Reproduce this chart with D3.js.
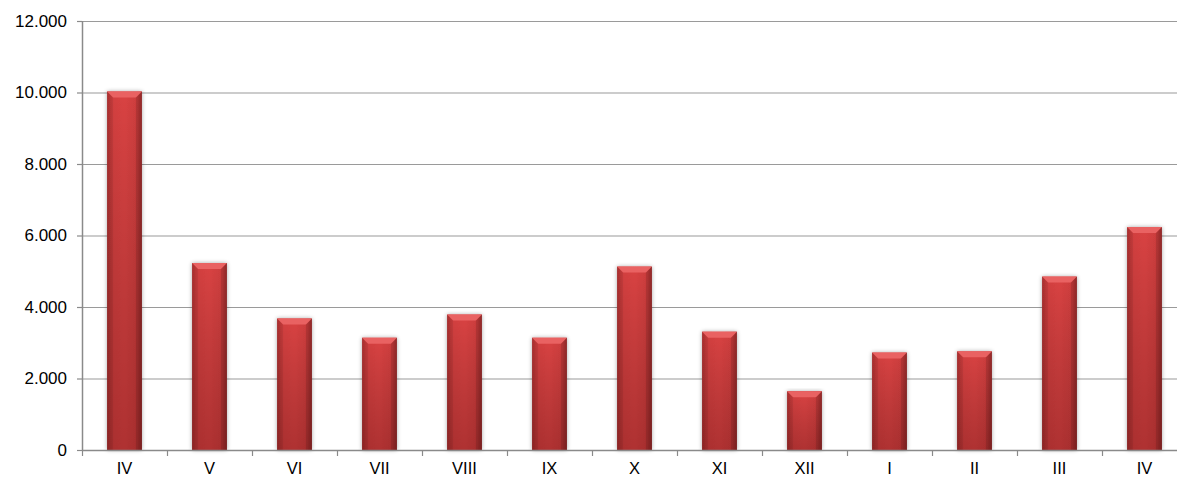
<!DOCTYPE html>
<html>
<head>
<meta charset="utf-8">
<script src="https://cdn.jsdelivr.net/npm/d3@7"></script>
<style>
  body { margin: 0; background: #fff; overflow: hidden; }
  svg { display: block; font-family: "Liberation Sans", Arial, sans-serif; }
</style>
</head>
<body>
<div id="chart"></div>
<script>
// mesi (numeri romani) e valori
var months = ["IV", "V", "VI", "VII", "VIII", "IX", "X", "XI", "XII", "I", "II", "III", "IV"];
var values = [10030, 5230, 3680, 3140, 3790, 3140, 5130, 3310, 1645, 2725, 2760, 4850, 6235];
var yTicks = [0, 2000, 4000, 6000, 8000, 10000, 12000];

var width = 1177, height = 478;
var margin = { left: 82, top: 21, bottom: 28 };
var plotRight = 1187; // l'area del grafico esce a destra oltre la finestra

var svg = d3.select("#chart").append("svg")
  .attr("width", width)
  .attr("height", height);

var defs = svg.append("defs");

// gradiente orizzontale del corpo della barra
var gH = defs.append("linearGradient").attr("id", "barH")
  .attr("x1", "0").attr("x2", "1").attr("y1", "0").attr("y2", "0");
gH.append("stop").attr("offset", "0%").attr("stop-color", "#b53333");
gH.append("stop").attr("offset", "14%").attr("stop-color", "#d23f3f");
gH.append("stop").attr("offset", "50%").attr("stop-color", "#d94343");
gH.append("stop").attr("offset", "86%").attr("stop-color", "#cd3d3d");
gH.append("stop").attr("offset", "100%").attr("stop-color", "#a32e2e");

// scurimento verso il basso
var gV = defs.append("linearGradient").attr("id", "barV")
  .attr("x1", "0").attr("x2", "0").attr("y1", "0").attr("y2", "1");
gV.append("stop").attr("offset", "0%").attr("stop-color", "#000").attr("stop-opacity", 0);
gV.append("stop").attr("offset", "100%").attr("stop-color", "#300").attr("stop-opacity", 0.25);

var shadow = defs.append("filter").attr("id", "shadow")
  .attr("x", "-30%").attr("y", "-5%").attr("width", "160%").attr("height", "110%");
shadow.append("feGaussianBlur").attr("in", "SourceAlpha").attr("stdDeviation", 2.2).attr("result", "b");
shadow.append("feComponentTransfer").attr("in", "b").attr("result", "s")
  .append("feFuncA").attr("type", "linear").attr("slope", 0.35);
var merge = shadow.append("feMerge");
merge.append("feMergeNode").attr("in", "s");
merge.append("feMergeNode").attr("in", "SourceGraphic");

var x = d3.scaleBand()
  .domain(d3.range(months.length))
  .range([margin.left, plotRight])
  .paddingInner(0.59)
  .paddingOuter(0.295);

var y = d3.scaleLinear()
  .domain([0, 12000])
  .range([height - margin.bottom, margin.top]);

var fmt = d3.format(",");
function itNum(v) { return fmt(v).replace(/,/g, "."); }

// griglia orizzontale
svg.append("g").selectAll("line")
  .data(yTicks.slice(1))
  .enter().append("line")
  .attr("x1", margin.left).attr("x2", plotRight)
  .attr("y1", d => y(d) + 0.5).attr("y2", d => y(d) + 0.5)
  .attr("stroke", "#9a9a9a").attr("stroke-width", 1.2);

// barre
var bars = svg.append("g").selectAll("g")
  .data(values)
  .enter().append("g")
  .attr("transform", (d, i) => `translate(${x(i)},0)`);

bars.append("rect")
  .attr("x", 0).attr("y", d => y(d))
  .attr("width", x.bandwidth())
  .attr("height", d => y(0) - y(d))
  .attr("fill", "url(#barH)")
  .attr("filter", "url(#shadow)");

bars.append("rect")
  .attr("x", 0).attr("y", d => y(d))
  .attr("width", x.bandwidth())
  .attr("height", d => y(0) - y(d))
  .attr("fill", "url(#barV)");

// smusso superiore e laterali
var bev = 6, bw = x.bandwidth();
bars.append("path")
  .attr("d", d => {
    var t = y(d);
    return `M0,${t} L${bw},${t} L${bw - bev},${t + bev} L${bev},${t + bev} Z`;
  })
  .attr("fill", "#e96262");
bars.append("path")
  .attr("d", d => {
    var t = y(d);
    return `M0,${t} L${bev},${t + bev} L${bev},${y(0)} L0,${y(0)} Z`;
  })
  .attr("fill", "#000").attr("opacity", 0.08);
bars.append("path")
  .attr("d", d => {
    var t = y(d);
    return `M${bw},${t} L${bw - bev},${t + bev} L${bw - bev},${y(0)} L${bw},${y(0)} Z`;
  })
  .attr("fill", "#000").attr("opacity", 0.12);

// asse y
var yAxis = svg.append("g")
  .attr("transform", `translate(${margin.left},0)`)
  .call(d3.axisLeft(y).tickValues(yTicks).tickSize(5).tickPadding(10).tickFormat(itNum));
yAxis.selectAll("line").attr("stroke", "#8a8a8a").attr("stroke-width", 1.2);
yAxis.select(".domain").attr("stroke", "#8a8a8a").attr("stroke-width", 1.5)
  .attr("d", `M0.5,${y(12000)}V${y(0)}`);
yAxis.selectAll("text").attr("font-size", 17).attr("fill", "#000")
  .attr("font-family", "Liberation Sans, Arial, sans-serif");

// asse x
var xAxis = svg.append("g")
  .attr("transform", `translate(0,${y(0)})`);
xAxis.append("line")
  .attr("x1", margin.left).attr("x2", plotRight)
  .attr("y1", 0.5).attr("y2", 0.5)
  .attr("stroke", "#8a8a8a").attr("stroke-width", 1.5);
xAxis.selectAll(".tk")
  .data(d3.range(months.length + 1))
  .enter().append("line")
  .attr("class", "tk")
  .attr("x1", i => margin.left + i * (plotRight - margin.left) / months.length + 0.5)
  .attr("x2", i => margin.left + i * (plotRight - margin.left) / months.length + 0.5)
  .attr("y1", 0).attr("y2", 6)
  .attr("stroke", "#8a8a8a").attr("stroke-width", 1.2);
xAxis.selectAll("text")
  .data(months)
  .enter().append("text")
  .attr("x", (d, i) => x(i) + x.bandwidth() / 2)
  .attr("y", 24)
  .attr("text-anchor", "middle")
  .attr("font-size", 16.5)
  .attr("fill", "#000")
  .text(d => d);
</script>
</body>
</html>
